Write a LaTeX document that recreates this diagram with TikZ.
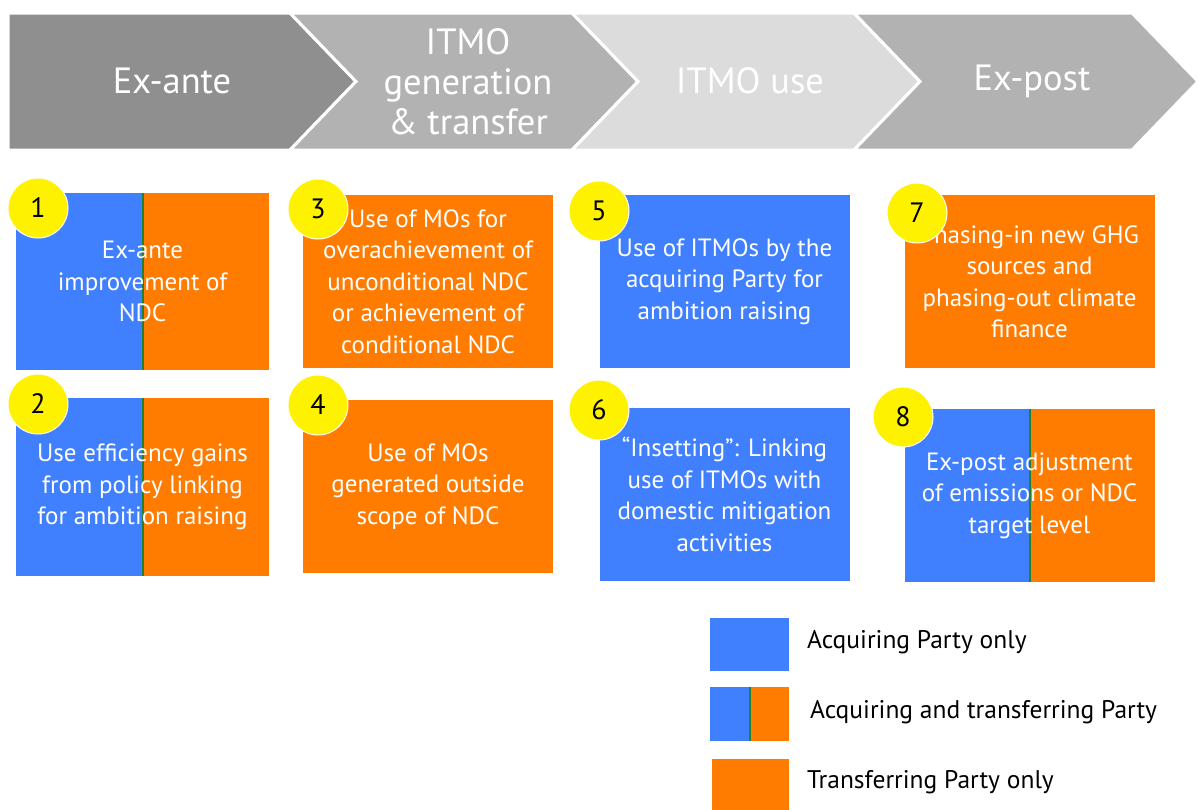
\documentclass[tikz,border=0pt]{standalone}
\usepackage{fontspec}
\setmainfont{PT Sans}
\definecolor{acqblue}{RGB}{64,128,255}
\definecolor{trforange}{RGB}{255,124,0}
\definecolor{divgreen}{RGB}{34,128,48}
\definecolor{numyellow}{RGB}{255,242,0}
\definecolor{greyexante}{RGB}{143,143,143}
\definecolor{greygen}{RGB}{178,178,178}
\definecolor{greyuse}{RGB}{220,220,220}
\definecolor{greyexpost}{RGB}{178,178,178}

\begin{document}
\begin{tikzpicture}[
        x=1pt,y=-1pt,
        phase/.style={text=white,align=center,font={\fontsize{36.5}{40}\selectfont}},
        chevron/.style={draw=white,line width=3pt,line join=miter},
        mobox/.style={minimum width=250pt,minimum height=173pt,inner sep=0pt,
                text=white,align=center,font={\fontsize{25}{31.5}\selectfont}},
        acquiring/.style={mobox,fill=acqblue},
        transferring/.style={mobox,fill=trforange},
        bothparties/.style={mobox,fill=trforange,
                path picture={
                        \fill[acqblue] (path picture bounding box.south west)
                                rectangle (path picture bounding box.north);
                        \draw[divgreen,line width=2pt] (path picture bounding box.south)
                                -- (path picture bounding box.north);}},
        number/.style={circle,fill=numyellow,draw=white,line width=1pt,
                minimum size=60pt,inner sep=0pt,font={\fontsize{28}{28}\selectfont}},
        legendtext/.style={anchor=west,inner sep=0pt,font={\fontsize{25.5}{25.5}\selectfont}}
    ]
    \useasboundingbox (0,0) rectangle (1198,809);

    %phase arrows
    \fill[greyexante,chevron] (8,13) -- (290,13) -- (356,81.5) -- (290,150) -- (8,150) -- cycle;
    \fill[greygen,chevron] (290,13) -- (572,13) -- (638,81.5) -- (572,150) -- (290,150) -- (356,81.5) -- cycle;
    \fill[greyuse,chevron] (572,13) -- (854,13) -- (920,81.5) -- (854,150) -- (572,150) -- (638,81.5) -- cycle;
    \fill[greyexpost,chevron] (854,13) -- (1132,13) -- (1198,81.5) -- (1132,150) -- (854,150) -- (920,81.5) -- cycle;

    \node[phase] (exante) at (172,81) {Ex-ante};
    \node[phase] (generation) at (468,82) {ITMO\\generation\\\& transfer};
    \node[phase] (use) at (750,81) {ITMO use};
    \node[phase] (expost) at (1032,81) {Ex-post};

    %mitigation outcome boxes
    \node[bothparties,minimum width=253pt,minimum height=177pt] (b1) at (142.5,281.5)
        {Ex-ante\\improvement of\\NDC};
    \node[bothparties,minimum width=253pt,minimum height=178pt] (b2) at (142.5,487)
        {Use efficiency gains\\from policy linking\\for ambition raising};
    \node[transferring] (b3) at (428,281.5)
        {Use of MOs for\\overachievement of\\unconditional NDC\\or achievement of\\conditional NDC};
    \node[transferring] (b4) at (428,486.5)
        {Use of MOs\\generated outside\\scope of NDC};
    \node[acquiring] (b5) at (724.5,281.5)
        {Use of ITMOs by the\\acquiring Party for\\ambition raising};
    \node[acquiring] (b6) at (724.5,494.5)
        {``Insetting'': Linking\\use of ITMOs with\\domestic mitigation\\activities};
    \node[transferring] (b7) at (1029.5,281.5)
        {Phasing-in new GHG\\sources and\\phasing-out climate\\finance};
    \node[bothparties] (b8) at (1029.5,495.5)
        {Ex-post adjustment\\of emissions or NDC\\target level};

    %numbers
    \node[number] (n1) at (38,208) {1};
    \node[number] (n2) at (38,404) {2};
    \node[number] (n3) at (318,209) {3};
    \node[number] (n4) at (318,405) {4};
    \node[number] (n5) at (599,211) {5};
    \node[number] (n6) at (599,410) {6};
    \node[number] (n7) at (917,213) {7};
    \node[number] (n8) at (903,417) {8};

    %legend
    \node[acquiring,minimum width=79pt,minimum height=53pt] (keyacq) at (749.5,644.5) {};
    \node[bothparties,minimum width=79pt,minimum height=54pt] (keyboth) at (749.5,714) {};
    \node[transferring,minimum width=77pt,minimum height=54pt] (keytrf) at (750.5,786) {};
    \node[legendtext] (acqtext) at (807,642) {Acquiring Party only};
    \node[legendtext] (bothtext) at (810,712) {Acquiring and transferring Party};
    \node[legendtext] (trftext) at (807,782) {Transferring Party only};
\end{tikzpicture}
\end{document}
